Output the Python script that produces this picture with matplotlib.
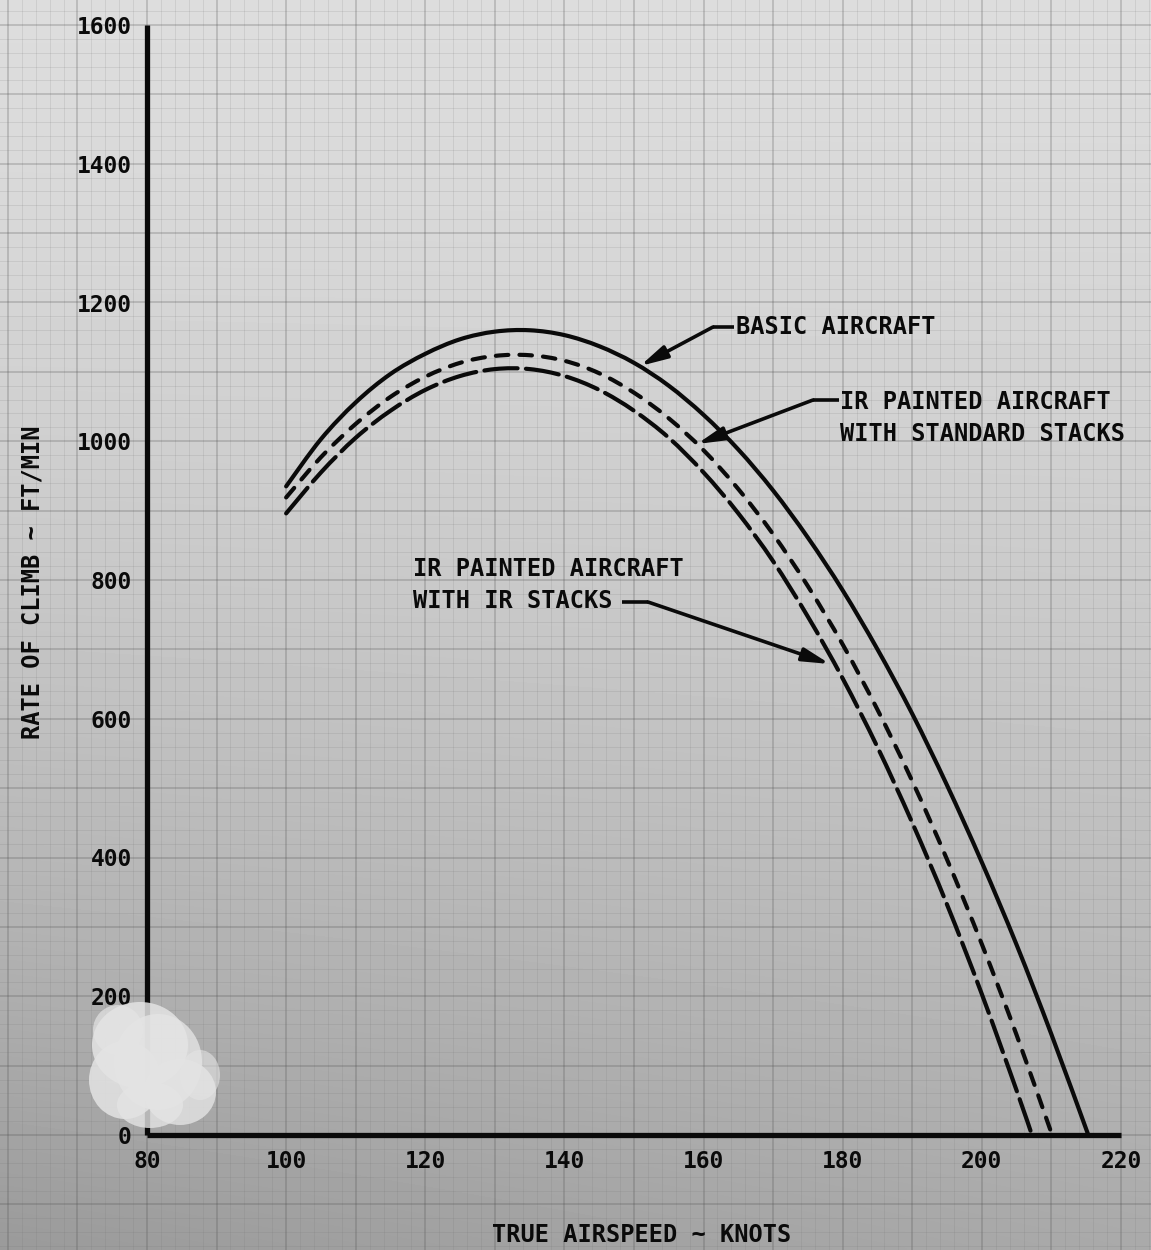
import numpy as np
import matplotlib
matplotlib.use('Agg')
import matplotlib.pyplot as plt
from matplotlib.patches import Ellipse, PathPatch
from matplotlib.path import Path

plt.rcParams['lines.scale_dashes'] = False

# ---------------- data ----------------
speed_basic = [100, 105, 110, 115, 120, 125, 130, 135, 140, 145, 150, 155, 160,
               165, 170, 175, 180, 185, 190, 195, 200, 205, 210, 215.3]
roc_basic = [935, 1003, 1056, 1097, 1126, 1147, 1158, 1160, 1153, 1137, 1113, 1080, 1038,
             988, 929, 861, 785, 700, 607, 504, 393, 274, 145, 0]

speed_std = [100, 105, 110, 115, 120, 125, 130, 135, 140, 145, 150, 155, 160,
             165, 170, 175, 180, 185, 190, 195, 200, 205, 210.1]
roc_std = [919, 977, 1025, 1064, 1093, 1113, 1123, 1124, 1116, 1098, 1070, 1033, 987,
           931, 866, 791, 707, 613, 510, 397, 275, 144, 0]

speed_ir = [100, 105, 110, 115, 120, 125, 130, 135, 140, 145, 150, 155, 160,
            165, 170, 175, 180, 185, 190, 195, 200, 205, 207.2]
roc_ir = [896, 955, 1005, 1044, 1074, 1094, 1104, 1104, 1094, 1074, 1044, 1005, 955,
          896, 827, 747, 658, 559, 450, 332, 203, 64, 0]

x_ticks = [80, 100, 120, 140, 160, 180, 200, 220]
y_ticks = [0, 200, 400, 600, 800, 1000, 1200, 1400, 1600]
x_label = "TRUE AIRSPEED ~ KNOTS"
y_label = "RATE OF CLIMB ~ FT/MIN"
label_basic = "BASIC AIRCRAFT"
label_std = "IR PAINTED AIRCRAFT\nWITH STANDARD STACKS"
label_ir = "IR PAINTED AIRCRAFT\nWITH IR STACKS"

# ---------------- layout ----------------
W, H = 1151, 1250
L, R, T, B = 147, 1121, 25, 1135
XMIN, XMAX, YMIN, YMAX = 80, 220, 0, 1600
sx = (XMAX - XMIN) / (R - L)
sy = (YMAX - YMIN) / (B - T)

def px2d(px, py):
    return XMIN + (px - L) * sx, YMIN + (B - py) * sy

fig = plt.figure(figsize=(W / 100, H / 100), dpi=100)

# background "graph paper"
bg = fig.add_axes([0, 0, 1, 1])
bg.set_zorder(0)
bx0, bx1 = XMIN - L * sx, XMIN + (W - L) * sx
by0, by1 = YMIN - (H - B) * sy, YMIN + B * sy
ny, nx = 300, 300
ty = np.linspace(0, 1, ny)[:, None]
tx = np.linspace(0, 1, nx)[None, :]
grad = 0.865 - 0.20 * ty ** 1.4 - 0.06 * ty ** 2 * (1 - tx)
bg.set_xticks(np.arange(60, 230, 10))
bg.set_xticks(np.arange(60, 230, 2), minor=True)
bg.set_yticks(np.arange(-200, 1700, 100))
bg.set_yticks(np.arange(-200, 1700, 20), minor=True)
bg.imshow(grad, extent=[bx0, bx1, by0, by1], aspect='auto', cmap='gray',
          vmin=0, vmax=1, origin='upper', interpolation='bilinear', zorder=0)
bg.set_xlim(bx0, bx1)
bg.set_ylim(by0, by1)
bg.grid(which='major', color='#505050', alpha=0.30, lw=1.1)
bg.grid(which='minor', color='#707070', alpha=0.15, lw=0.7)
bg.tick_params(which='both', length=0, labelbottom=False, labelleft=False)
for s in bg.spines.values():
    s.set_visible(False)

# main axes
ax = fig.add_axes([L / W, 1 - B / H, (R - L) / W, (B - T) / H])
ax.set_zorder(1)
ax.patch.set_visible(False)
ax.set_xlim(XMIN, XMAX)
ax.set_ylim(YMIN, YMAX)
for s in ['top', 'right']:
    ax.spines[s].set_visible(False)
for s in ['left', 'bottom']:
    ax.spines[s].set_linewidth(3.8)
    ax.spines[s].set_color('#0a0a0a')
    ax.spines[s].set_capstyle('butt')
ax.set_xticks(x_ticks)
ax.set_yticks(y_ticks)
ax.set_xticklabels([str(v) for v in x_ticks])
ax.set_yticklabels([str(v) for v in y_ticks])
ax.tick_params(length=0, pad=11, labelsize=16.5, colors='#0a0a0a')
for lab in ax.get_xticklabels() + ax.get_yticklabels():
    lab.set_family('DejaVu Sans Mono')
    lab.set_weight('bold')

ink = '#0a0a0a'


def smooth_path(xs, ys):
    """Catmull-Rom curve through the read points, as cubic Bezier segments."""
    p = np.column_stack([xs, ys]).astype(float)
    n = len(p)
    verts = [p[0]]
    codes = [Path.MOVETO]
    for i in range(n - 1):
        p0 = p[i - 1] if i > 0 else p[i]
        p1, p2 = p[i], p[i + 1]
        p3 = p[i + 2] if i + 2 < n else p[i + 1]
        c1 = p1 + (p2 - p0) / 6.0
        c2 = p2 - (p3 - p1) / 6.0
        verts += [c1, c2, p2]
        codes += [Path.CURVE4] * 3
    return Path(verts, codes)


def draw_curve(xs, ys, **kw):
    patch = PathPatch(smooth_path(xs, ys), facecolor='none', edgecolor=ink,
                      lw=3.0, zorder=4, capstyle='round', **kw)
    ax.add_patch(patch)


draw_curve(speed_basic, roc_basic)
draw_curve(speed_std, roc_std, linestyle=(0, (9, 8)))
draw_curve(speed_ir, roc_ir, linestyle=(0, (24, 6)))

tfont = dict(family='DejaVu Sans Mono', weight='bold', size=17, color=ink)

# labels with leaders
def leader(start, corner, tip):
    s = px2d(*start); c = px2d(*corner); t = px2d(*tip)
    ax.plot([s[0], c[0]], [s[1], c[1]], color=ink, lw=2.6, solid_capstyle='butt',
            zorder=5, clip_on=False)
    ax.annotate('', xy=t, xytext=c,
                arrowprops=dict(arrowstyle='-|>,head_length=0.9,head_width=0.22',
                                color=ink, lw=2.6, mutation_scale=18,
                                shrinkA=0, shrinkB=0), zorder=5)

x0, y0 = px2d(736, 327)
ax.text(x0, y0, label_basic, ha='left', va='center', zorder=6, **tfont)
leader((734, 327), (713, 327), (640, 366))

x0, y0 = px2d(840, 418)
ax.text(x0, y0, label_std, ha='left', va='center', linespacing=1.45, zorder=6, **tfont)
leader((839, 400), (813, 400), (697, 444))

x0, y0 = px2d(413, 585)
ax.text(x0, y0, label_ir, ha='left', va='center', linespacing=1.45, zorder=6, **tfont)
leader((622, 602), (648, 602), (830, 664))

# axis titles
fig.text(642 / W, 1 - 1235 / H, x_label, ha='center', va='center', **tfont)
fig.text(33 / W, 1 - 582 / H, y_label, ha='center', va='center', rotation=90, **tfont)

# whitish stain at bottom-left corner
for (cx, cy, w, h, a) in [(140, 1045, 96, 86, 0.85), (125, 1080, 72, 78, 0.85),
                          (180, 1092, 72, 66, 0.8), (158, 1062, 88, 96, 0.8),
                          (150, 1105, 66, 46, 0.8), (118, 1030, 50, 50, 0.7),
                          (200, 1075, 40, 50, 0.6)]:
    c = px2d(cx, cy)
    ax.add_patch(Ellipse(c, w * sx, h * sy, facecolor='#e4e4e4', edgecolor='none',
                         alpha=a, zorder=7, clip_on=False))

fig.savefig('out.png', dpi=100)
